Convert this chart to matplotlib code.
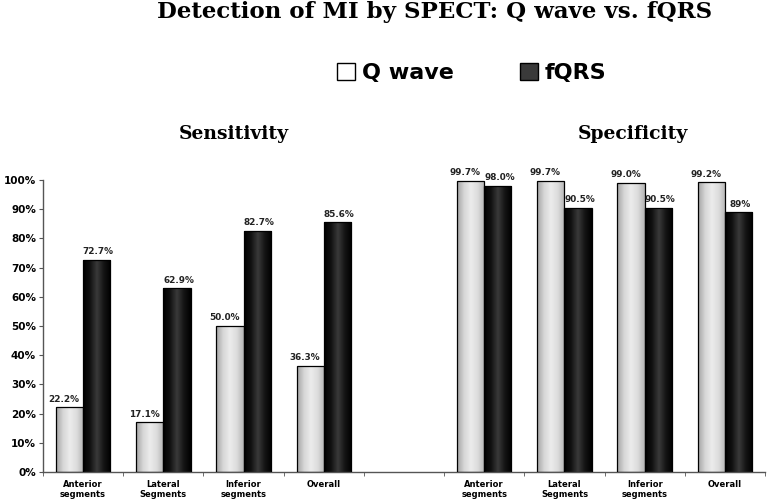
import numpy as np
import matplotlib
matplotlib.use("Agg")
import matplotlib.pyplot as plt
from matplotlib.patches import Patch
from matplotlib.colors import LinearSegmentedColormap

# data
categories = ["Anterior\nsegments", "Lateral\nSegments", "Inferior\nsegments", "Overall"]
sens_q = [22.2, 17.1, 50.0, 36.3]
sens_f = [72.7, 62.9, 82.7, 85.6]
spec_q = [99.7, 99.7, 99.0, 99.2]
spec_f = [98.0, 90.5, 90.5, 89.0]
spec_f_labels = ["98.0%", "90.5%", "90.5%", "89%"]

# slot layout: 4 sensitivity groups, one empty slot, 4 specificity groups
labels = categories + [""] + categories
q_vals = sens_q + [np.nan] + spec_q
f_vals = sens_f + [np.nan] + spec_f
q_text = [f"{v:.1f}%" for v in sens_q] + [""] + [f"{v:.1f}%" for v in spec_q]
f_text = [f"{v:.1f}%" for v in sens_f] + [""] + spec_f_labels

x = np.arange(len(labels))
w = 0.34

fig = plt.figure(figsize=(7.69, 5.04), dpi=100)
ax = fig.add_axes([43 / 769, 32 / 504, 722 / 769, 292 / 504])

light = LinearSegmentedColormap.from_list(
    "light", ["#a4a4a4", "#d6d6d6", "#ececec", "#dcdcdc", "#b4b4b4"])
dark = LinearSegmentedColormap.from_list(
    "dark", ["#000000", "#111111", "#3a3a3a", "#141414", "#000000"])
grad = np.linspace(0, 1, 64).reshape(1, -1)

# outlines on top; the fill is a shaded image clipped to each bar
bq = ax.bar(x - w / 2, q_vals, w, facecolor="none", edgecolor="black", linewidth=0.9, zorder=3)
bf = ax.bar(x + w / 2, f_vals, w, facecolor="none", edgecolor="black", linewidth=0.9, zorder=3)

for bars, cmap in ((bq, light), (bf, dark)):
    for p in bars:
        if not np.isfinite(p.get_height()):
            continue
        x0, y0 = p.get_x(), p.get_y()
        im = ax.imshow(grad, cmap=cmap, aspect="auto", zorder=2,
                       extent=(x0, x0 + p.get_width(), y0, y0 + p.get_height()))
        im.set_clip_path(p)

lab_kw = dict(ha="center", va="bottom", fontsize=6.4, fontweight="bold", color="#222222")
for xi, v, t in zip(x, q_vals, q_text):
    if t:
        ax.text(xi - w / 2 - 0.07, v + 1.2, t, **lab_kw)
for xi, v, t in zip(x, f_vals, f_text):
    if t:
        ax.text(xi + w / 2 + 0.02, v + 1.2, t, **lab_kw)

ax.set_xlim(-0.5, len(labels) - 0.5)
ax.set_ylim(0, 100)
ax.set_yticks(np.arange(0, 101, 10))
ax.set_yticklabels([f"{v}%" for v in range(0, 101, 10)], fontsize=7.5, fontweight="bold")
ax.set_xticks(x)
ax.set_xticklabels(labels, fontsize=6.0, fontweight="bold", linespacing=1.15)
ax.set_xticks(np.arange(-0.5, len(labels), 1), minor=True)
ax.tick_params(axis="x", which="major", length=0, pad=6)
ax.tick_params(axis="x", which="minor", length=3, direction="out", color="#555555")
ax.tick_params(axis="y", length=3, direction="out", color="#555555", pad=2)

for s in ("top", "right"):
    ax.spines[s].set_visible(False)
for s in ("left", "bottom"):
    ax.spines[s].set_color("#555555")
    ax.spines[s].set_linewidth(1.0)

fig.text(435 / 769, 1 - 18 / 504, "Detection of MI by SPECT: Q wave vs. fQRS",
         ha="center", va="baseline", fontsize=16.5, fontweight="bold",
         family="DejaVu Serif")
fig.text(234 / 769, 1 - 134 / 504, "Sensitivity", ha="center", va="center",
         fontsize=13.5, fontweight="bold", family="DejaVu Serif")
fig.text(633 / 769, 1 - 134 / 504, "Specificity", ha="center", va="center",
         fontsize=13.5, fontweight="bold", family="DejaVu Serif")

handles = [Patch(facecolor="white", edgecolor="black", linewidth=1.0, label="Q wave"),
           Patch(facecolor="#3a3a3a", edgecolor="black", linewidth=1.0, label="fQRS")]
fig.legend(handles=handles, loc="center", bbox_to_anchor=(472 / 769, 1 - 73 / 504),
           ncol=2, frameon=False, handlelength=0.8, handleheight=0.8,
           handletextpad=0.3, columnspacing=3.0,
           prop={"family": "DejaVu Sans", "weight": "bold", "size": 16})

fig.savefig("out.png", dpi=100)
